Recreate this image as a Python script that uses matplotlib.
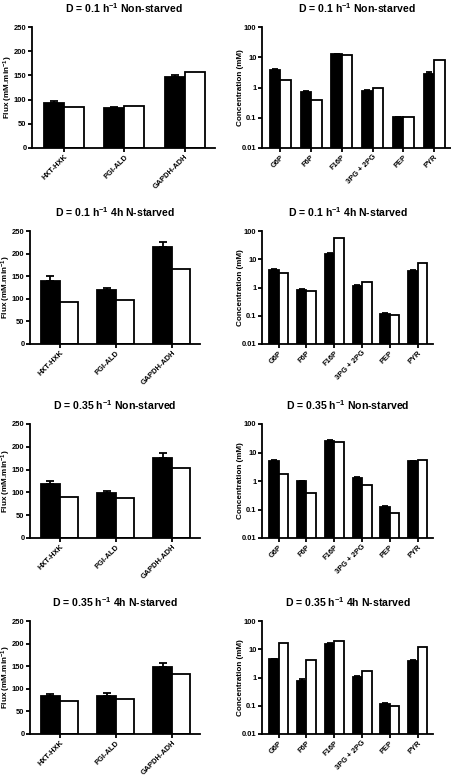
import matplotlib
matplotlib.use("Agg")
import matplotlib.pyplot as plt
import numpy as np

plt.rcParams["font.family"] = ["Liberation Sans", "DejaVu Sans"]
plt.rcParams["font.weight"] = "bold"
plt.rcParams["mathtext.default"] = "regular"
plt.rcParams["axes.unicode_minus"] = False

# 数据
flux_labels = ["HXT-HXK", "PGI-ALD", "GAPDH-ADH"]
conc_labels = ["G6P", "F6P", "F16P", "3PG + 2PG", "PEP", "PYR"]

titles = ["D = 0.1 h$^{-1}$ Non-starved",
          "D = 0.1 h$^{-1}$ 4h N-starved",
          "D = 0.35 h$^{-1}$ Non-starved",
          "D = 0.35 h$^{-1}$ 4h N-starved"]

flux_black = [[94, 82, 147], [140, 119, 214], [118, 98, 176], [83, 84, 148]]
flux_black_err = [[4, 3, 4], [10, 6, 11], [7, 6, 11], [5, 6, 8]]
flux_white = [[84, 87, 157], [92, 98, 167], [89, 87, 153], [73, 78, 133]]

conc_black = [[3.8, 0.73, 12.4, 0.79, 0.102, 2.8],
              [4.3, 0.84, 15.7, 1.14, 0.12, 3.8],
              [5.0, 1.0, 26, 1.25, 0.12, 5.0],
              [4.4, 0.76, 15.3, 1.07, 0.12, 3.8]]
conc_black_err = [[0.2, 0.02, 0.8, 0.03, 0.005, 0.5],
                  [0.3, 0.04, 0.5, 0.05, 0.004, 0.3],
                  [0.3, 0.03, 1.5, 0.08, 0.01, 0.2],
                  [0.3, 0.1, 1.0, 0.05, 0.004, 0.3]]
conc_white = [[1.77, 0.39, 11.7, 0.99, 0.107, 8.2],
              [3.3, 0.76, 55, 1.62, 0.11, 7.2],
              [1.75, 0.38, 24, 0.7, 0.074, 5.4],
              [17, 4.2, 19.5, 1.74, 0.098, 12.3]]

# 每行坐标轴的上下边界 (像素)
row_px = [(27, 148), (231, 344), (424, 538), (621, 734)]
W, H = 452, 780
lw = 1.3


def style_axis(ax, title, label, label_x):
	ax.spines["top"].set_visible(False)
	ax.spines["right"].set_visible(False)
	ax.spines["left"].set_linewidth(lw)
	ax.spines["bottom"].set_linewidth(lw)
	ax.tick_params(axis="both", width=lw, length=3, labelsize=5.4, pad=1)
	ax.set_title(title, fontsize=7.6, fontweight="bold", pad=10)
	ax.set_ylabel(label, fontsize=5.9, fontweight="bold")
	# 固定y轴标签的位置 (右边缘), 避免被裁掉
	ax.yaxis.set_label_coords(label_x, 0.5)


def draw_flux(ax, title, black, err, white, axes_w):
	x = np.arange(len(flux_labels))
	w = 0.33
	ax.bar(x - w / 2, black, w, color="black", edgecolor="black", linewidth=lw,
		yerr=[np.zeros(len(err)), err], capsize=3, error_kw=dict(elinewidth=lw, capthick=lw))
	ax.bar(x + w / 2, white, w, color="white", edgecolor="black", linewidth=lw)
	ax.set_ylim(0, 250)
	ax.set_yticks([0, 50, 100, 150, 200, 250])
	ax.set_xlim(-0.53, 2.5)
	ax.set_xticks(x)
	ax.set_xticklabels(flux_labels, rotation=45, ha="right", rotation_mode="anchor")
	style_axis(ax, title, "Flux (mM.min$^{-1}$)", -17 / axes_w)


def draw_conc(ax, title, black, err, white, axes_w):
	x = np.arange(len(conc_labels))
	w = 0.34
	ax.bar(x - w / 2, black, w, color="black", edgecolor="black", linewidth=lw,
		yerr=[np.zeros(len(err)), err], capsize=2, error_kw=dict(elinewidth=lw, capthick=lw))
	ax.bar(x + w / 2, white, w, color="white", edgecolor="black", linewidth=lw)
	ax.set_yscale("log")
	ax.set_ylim(0.01, 100)
	ax.set_yticks([0.01, 0.1, 1, 10, 100])
	ax.set_yticklabels(["0.01", "0.1", "1", "10", "100"])
	ax.minorticks_off()
	ax.set_xlim(-0.6, 5.55)
	ax.set_xticks(x)
	ax.set_xticklabels(conc_labels, rotation=45, ha="right", rotation_mode="anchor")
	style_axis(ax, title, "Concentration (mM)", -18 / axes_w)


fig = plt.figure(figsize=(W / 100, H / 100), dpi=100)

for i in range(4):
	top, bottom = row_px[i]
	b = 1 - bottom / H
	h = (bottom - top) / H
	if i == 0:
		lx, lw_px = 32, 215 - 32
		rx, rw_px = 262, 451 - 262
	else:
		lx, lw_px = 30, 200 - 30
		rx, rw_px = 262, 433 - 262
	left_ax = fig.add_axes([lx / W, b, lw_px / W, h])
	right_ax = fig.add_axes([rx / W, b, rw_px / W, h])
	draw_flux(left_ax, titles[i], flux_black[i], flux_black_err[i], flux_white[i], lw_px)
	draw_conc(right_ax, titles[i], conc_black[i], conc_black_err[i], conc_white[i], rw_px)

plt.savefig("out.png", dpi=100)
plt.close(fig)
